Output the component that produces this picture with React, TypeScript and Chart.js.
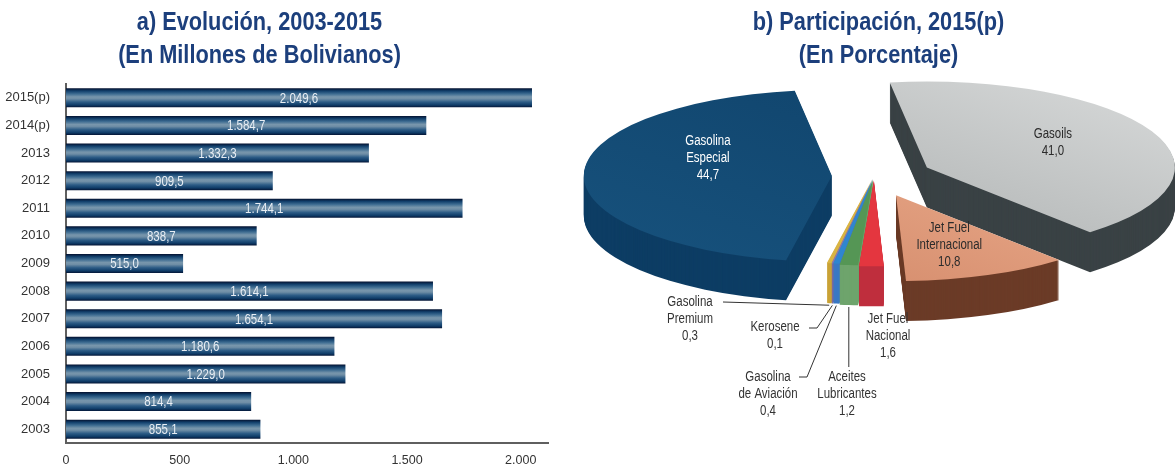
import React, { useEffect, useRef } from "react";
import { Chart, registerables } from "chart.js";
Chart.register(...registerables);

// ---------- data ----------
const YEARS = ["2015(p)", "2014(p)", "2013", "2012", "2011", "2010", "2009", "2008", "2007", "2006", "2005", "2004", "2003"];
const VALUES = [2049.6, 1584.7, 1332.3, 909.5, 1744.1, 838.7, 515.0, 1614.1, 1654.1, 1180.6, 1229.0, 814.4, 855.1];
const X_TICKS = [0, 500, 1000, 1500, 2000];

const PRODUCTS = ["Gasoils", "Jet Fuel Internacional", "Jet Fuel Nacional", "Aceites Lubricantes", "Gasolina de Aviación", "Kerosene", "Gasolina Premium", "Gasolina Especial"];
const LABEL_LINES = [["Gasoils"], ["Jet Fuel", "Internacional"], ["Jet Fuel", "Nacional"], ["Aceites", "Lubricantes"], ["Gasolina", "de Aviación"], ["Kerosene"], ["Gasolina", "Premium"], ["Gasolina", "Especial"]];
const SHARES = [41.0, 10.8, 1.6, 1.2, 0.4, 0.1, 0.3, 44.7];

// ---------- styles ----------
const SANS = "'Liberation Sans', Arial, sans-serif";
const CONDENSE = 0.82;
const TITLE_COLOR = "#1c3f7c";
const TOP_COLORS = ["#bcc0c0", "#e39c7c", "#e4363f", "#559655", "#2f86d0", "#8a78b0", "#d9b443", "#134a74"];
const TOP_GRADIENTS: (string[] | null)[] = [["#a4a8a8", "#d8dada"], ["#cf8464", "#f2b697"], null, null, null, null, null, ["#17527d", "#0f426a"]];
const SIDE_COLORS = ["#3a4245", "#6b3b27", "#bf2f3e", "#6ea46c", "#3a78c4", "#7a6aa0", "#c9a236", "#0d3d64"];
const EXPLODE = [0.235, 0.24, 0.05, 0.04, 0.03, 0.03, 0.03, 0.17];
const PIE_RX = 248;
const PIE_RY = 86;
const PIE_DEPTH = 40;
const PIE_ROTATION = -8.6;
const LINE_H = 17;
const LABEL_STYLE: any[] = [
  { rho: 0.56, dy: -5, color: "#2b2b2b" },
  { rho: 0.58, dy: 4, color: "#2b2b2b" },
  { at: [14, 160] },
  { at: [-27, 218], down: 191 },
  { at: [-106, 218], leader: [[-75, 201], [-67, 201]] },
  { at: [-99, 159.5], leader: [[-65, 152], [-57, 152]] },
  { at: [-184, 143], leader: [[-151, 126]] },
  { rho: 0.5, dy: -17, color: "#ffffff" },
];
const BAR_PCT = 0.69;

function fmtEs(v: number, dec: number) {
  const s = v.toFixed(dec);
  const [i, d] = s.split(".");
  const ii = i.replace(/\B(?=(\d{3})+(?!\d))/g, ".");
  return d ? ii + "," + d : ii;
}

function midAngle(a: any) {
  const p = a.getProps(["startAngle", "endAngle"], true);
  return (p.startAngle + p.endAngle) / 2;
}

function narrowText(ctx: CanvasRenderingContext2D, t: string, x: number, y: number) {
  ctx.save();
  ctx.translate(x, y);
  ctx.scale(CONDENSE, 1);
  ctx.fillText(t, 0, 0);
  ctx.restore();
}

const valueLabels = {
  id: "valueLabels",
  afterDatasetsDraw(chart: any) {
    const ctx = chart.ctx;
    const meta = chart.getDatasetMeta(0);
    ctx.save();
    ctx.font = `14px ${SANS}`;
    ctx.fillStyle = "#e8eef4";
    ctx.textAlign = "center";
    ctx.textBaseline = "middle";
    meta.data.forEach((el: any, i: number) => {
      const { x, y, base } = el.getProps(["x", "y", "base"], true);
      narrowText(ctx, fmtEs(VALUES[i], 1), (x + base) / 2, y + 1);
    });
    ctx.restore();
  },
};

const pie3d = {
  id: "pie3d",
  beforeDatasetsDraw(chart: any) {
    const ctx = chart.ctx;
    const arcs = chart.getDatasetMeta(0).data as any[];
    if (!arcs.length) return;
    const { x: cx, y: cy, outerRadius: r } = arcs[0].getProps(["x", "y", "outerRadius"], true);
    const kx = PIE_RX / r, ky = PIE_RY / r;
    const order = arcs.map((_, i) => i).sort((a, b) => Math.sin(midAngle(arcs[a])) - Math.sin(midAngle(arcs[b])));
    for (const i of order) {
      const a = arcs[i];
      const m = midAngle(a);
      const ox = Math.cos(m) * EXPLODE[i] * PIE_RX;
      const oy = Math.sin(m) * EXPLODE[i] * PIE_RY;
      const orig = a.options;
      a.options = { ...orig, backgroundColor: SIDE_COLORS[i] };
      for (let d = PIE_DEPTH; d >= 1; d--) {
        ctx.save();
        ctx.translate(cx + ox, cy + oy + d);
        ctx.scale(kx, ky);
        ctx.translate(-cx, -cy);
        a.draw(ctx);
        ctx.restore();
      }
      const tg = TOP_GRADIENTS[i];
      if (tg) {
        const g = ctx.createLinearGradient(cx - r, cy + r, cx + r, cy - r);
        g.addColorStop(0, tg[0]);
        g.addColorStop(1, tg[1]);
        a.options = { ...orig, backgroundColor: g };
      } else {
        a.options = orig;
      }
      ctx.save();
      ctx.translate(cx + ox, cy + oy);
      ctx.scale(kx, ky);
      ctx.translate(-cx, -cy);
      a.draw(ctx);
      ctx.restore();
      a.options = orig;
    }
    return false;
  },
  afterDraw(chart: any) {
    const ctx = chart.ctx;
    const arcs = chart.getDatasetMeta(0).data as any[];
    if (!arcs.length) return;
    const { x: cx, y: cy } = arcs[0].getProps(["x", "y"], true);
    ctx.save();
    ctx.font = `14px ${SANS}`;
    ctx.textAlign = "center";
    ctx.textBaseline = "middle";
    arcs.forEach((a: any, i: number) => {
      const st = LABEL_STYLE[i];
      const m = midAngle(a);
      const ox = Math.cos(m) * EXPLODE[i] * PIE_RX;
      const oy = Math.sin(m) * EXPLODE[i] * PIE_RY;
      const lines = [...LABEL_LINES[i], fmtEs(SHARES[i], 1)];
      let lx: number, ly: number;
      if (st.rho != null) {
        lx = cx + ox + Math.cos(m) * st.rho * PIE_RX;
        ly = cy + oy + Math.sin(m) * st.rho * PIE_RY + st.dy;
        ctx.fillStyle = st.color;
      } else {
        lx = cx + st.at[0];
        ly = cy + st.at[1];
        ctx.fillStyle = "#333333";
        const bx = cx + ox + Math.cos(m) * PIE_RX;
        const by = cy + oy + Math.sin(m) * PIE_RY + PIE_DEPTH + 2;
        ctx.strokeStyle = "#333333";
        ctx.lineWidth = 1;
        if (st.leader) {
          ctx.beginPath();
          st.leader.forEach((p: number[], k: number) => {
            if (k === 0) ctx.moveTo(cx + p[0], cy + p[1]);
            else ctx.lineTo(cx + p[0], cy + p[1]);
          });
          ctx.lineTo(bx, by);
          ctx.stroke();
        } else if (st.down != null) {
          ctx.beginPath();
          ctx.moveTo(bx, by);
          ctx.lineTo(bx, cy + st.down);
          ctx.stroke();
        }
      }
      lines.forEach((t, k) => narrowText(ctx, t, lx, ly + (k - (lines.length - 1) / 2) * LINE_H));
    });
    ctx.restore();
  },
};

export default function App() {
  const barRef = useRef<HTMLCanvasElement>(null);
  const pieRef = useRef<HTMLCanvasElement>(null);

  useEffect(() => {
    document.body.style.margin = "0";
    const bar = new Chart(barRef.current as HTMLCanvasElement, {
      type: "bar",
      data: {
        labels: YEARS,
        datasets: [
          {
            data: VALUES,
            borderWidth: 0,
            categoryPercentage: 1,
            barPercentage: BAR_PCT,
            backgroundColor: (c: any) => {
              const chart = c.chart;
              const ys = chart.scales && chart.scales.y;
              if (!chart.chartArea || !ys || c.dataIndex == null) return "#1b4a78";
              const y = ys.getPixelForValue(c.dataIndex);
              const h = (ys.height / YEARS.length) * BAR_PCT;
              const g = chart.ctx.createLinearGradient(0, y - h / 2, 0, y + h / 2);
              g.addColorStop(0, "#03102e");
              g.addColorStop(0.14, "#12406c");
              g.addColorStop(0.3, "#3f6d92");
              g.addColorStop(0.45, "#7896ac");
              g.addColorStop(0.55, "#6f8ea6");
              g.addColorStop(0.72, "#2d5c86");
              g.addColorStop(0.88, "#0f3c68");
              g.addColorStop(1, "#041536");
              return g;
            },
          } as any,
        ],
      },
      options: {
        indexAxis: "y",
        animation: false,
        responsive: false,
        maintainAspectRatio: false,
        events: [],
        layout: { padding: { top: 84, right: 12, left: 0, bottom: 0 } },
        plugins: { legend: { display: false }, tooltip: { enabled: false } },
        scales: {
          x: {
            min: 0,
            max: 2120,
            grid: { display: false, drawTicks: false },
            border: { display: true, color: "#5f5f5f", width: 2 },
            afterBuildTicks: (s: any) => {
              s.ticks = X_TICKS.map((v) => ({ value: v }));
            },
            ticks: {
              padding: 10,
              color: "#333333",
              font: { family: SANS, size: 12.5 },
              callback: (v: any) => fmtEs(Number(v), 0),
            },
            afterFit: (s: any) => {
              s.height = 28;
            },
          },
          y: {
            grid: { display: false, drawTicks: false },
            border: { display: true, color: "#5f5f5f", width: 2 },
            ticks: { padding: 16, color: "#333333", font: { family: SANS, size: 13 } },
            afterFit: (s: any) => {
              s.width = 66;
            },
          },
        },
      } as any,
      plugins: [valueLabels],
    });

    const pie = new Chart(pieRef.current as HTMLCanvasElement, {
      type: "pie",
      data: {
        labels: PRODUCTS,
        datasets: [{ data: SHARES, backgroundColor: TOP_COLORS, borderWidth: 0, offset: 0, hoverOffset: 0 } as any],
      },
      options: {
        animation: false,
        responsive: false,
        maintainAspectRatio: false,
        events: [],
        rotation: PIE_ROTATION,
        radius: 100,
        layout: { padding: { left: 194, right: 201, top: 76, bottom: 195 } },
        plugins: { legend: { display: false }, tooltip: { enabled: false } },
      } as any,
      plugins: [pie3d],
    });

    return () => {
      bar.destroy();
      pie.destroy();
    };
  }, []);

  const titleBox: React.CSSProperties = {
    position: "absolute",
    top: 5,
    textAlign: "center",
    whiteSpace: "nowrap",
  };
  const titleText: React.CSSProperties = {
    display: "inline-block",
    fontFamily: SANS,
    fontWeight: "bold",
    fontSize: 25,
    lineHeight: "33px",
    color: TITLE_COLOR,
    transform: "scaleX(0.87)",
    transformOrigin: "50% 50%",
  };

  return (
    <div style={{ position: "fixed", left: 0, top: 0, width: 1175, height: 471, background: "#ffffff", overflow: "hidden" }}>
      <canvas ref={barRef} width={560} height={471} style={{ position: "absolute", left: 0, top: 0, width: 560, height: 471 }} />
      <canvas ref={pieRef} width={595} height={471} style={{ position: "absolute", left: 580, top: 0, width: 595, height: 471 }} />
      <div style={{ ...titleBox, left: 0, width: 520 }}>
        <span style={titleText}>
          a) Evolución, 2003-2015
          <br />
          (En Millones de Bolivianos)
        </span>
      </div>
      <div style={{ ...titleBox, left: 580, width: 596 }}>
        <span style={titleText}>
          b) Participación, 2015(p)
          <br />
          (En Porcentaje)
        </span>
      </div>
    </div>
  );
}
